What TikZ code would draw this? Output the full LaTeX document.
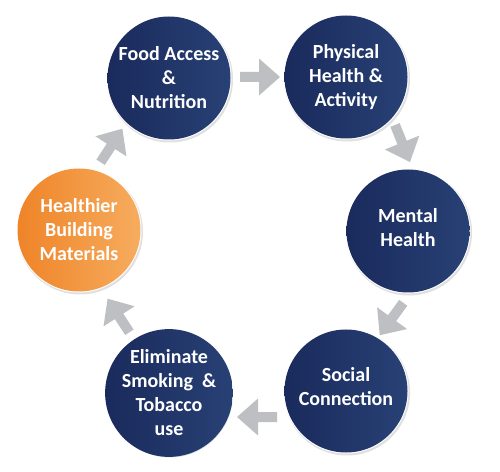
\documentclass[tikz,border=0pt]{standalone}
\usepackage{fontspec}
\setmainfont{Carlito}
\definecolor{navyL}{HTML}{1A2A5C}
\definecolor{navyR}{HTML}{284175}
\definecolor{orangeL}{HTML}{EF8428}
\definecolor{orangeR}{HTML}{F6AC5E}
\definecolor{arrowgray}{HTML}{BEBFC2}
\tikzset{
  stage/.style={circle, minimum size=123pt, inner sep=0pt, text=white,
    font=\fontsize{20}{24}\selectfont\bfseries, align=center,
    left color=navyL, right color=navyR},
  hilite/.style={stage, left color=orangeL, right color=orangeR},
  halo/.style={fill=black!12},
  pics/blockarrow/.style={code={
    \fill[arrowgray] (-20,-5) -- (-1,-5) -- (-1,-18.5) -- (20,0) -- (-1,18.5) -- (-1,5) -- (-20,5) -- cycle;}}
}
\begin{document}
\begin{tikzpicture}[x=1pt,y=1pt]
\useasboundingbox (0,0) rectangle (500,471);
\fill[white] (0,0) rectangle (500,471);
% soft halos
\foreach \cx/\cy in {169/393,346/394,408/240,346/80,169/78}{
  \fill[halo] (\cx+1,\cy-1.5) circle (63);
  \fill[white] (\cx,\cy) circle (62.5);
}
\fill[halo] (80,239.5) circle (63);
\fill[white] (79,241) circle (62.5);
% circles
\node[stage] (food) at (169,393) {Food Access\\\&\\Nutrition};
\node[stage] (phys) at (346,394) {Physical\\Health \&\\Activity};
\node[stage] (mental) at (408,240) {Mental\\Health\\[-16pt]\mbox{}};
\node[stage] (social) at (346,80) {Social\\Connection\\[-14pt]\mbox{}};
\node[stage] (elim) at (169,78) {Eliminate\\Smoking~~\&\\Tobacco\\use};
\node[hilite] (healthier) at (79,241) {Healthier\\Building\\Materials};
% arrows
\pic[rotate=0] at (260,394) {blockarrow};
\pic[rotate=-68] at (402.5,327.5) {blockarrow};
\pic[rotate=-126] at (391.5,152) {blockarrow};
\pic[rotate=180] at (257,54) {blockarrow};
\pic[rotate=123] at (118.5,155.5) {blockarrow};
\pic[rotate=57] at (111.5,325.5) {blockarrow};
\end{tikzpicture}
\end{document}
